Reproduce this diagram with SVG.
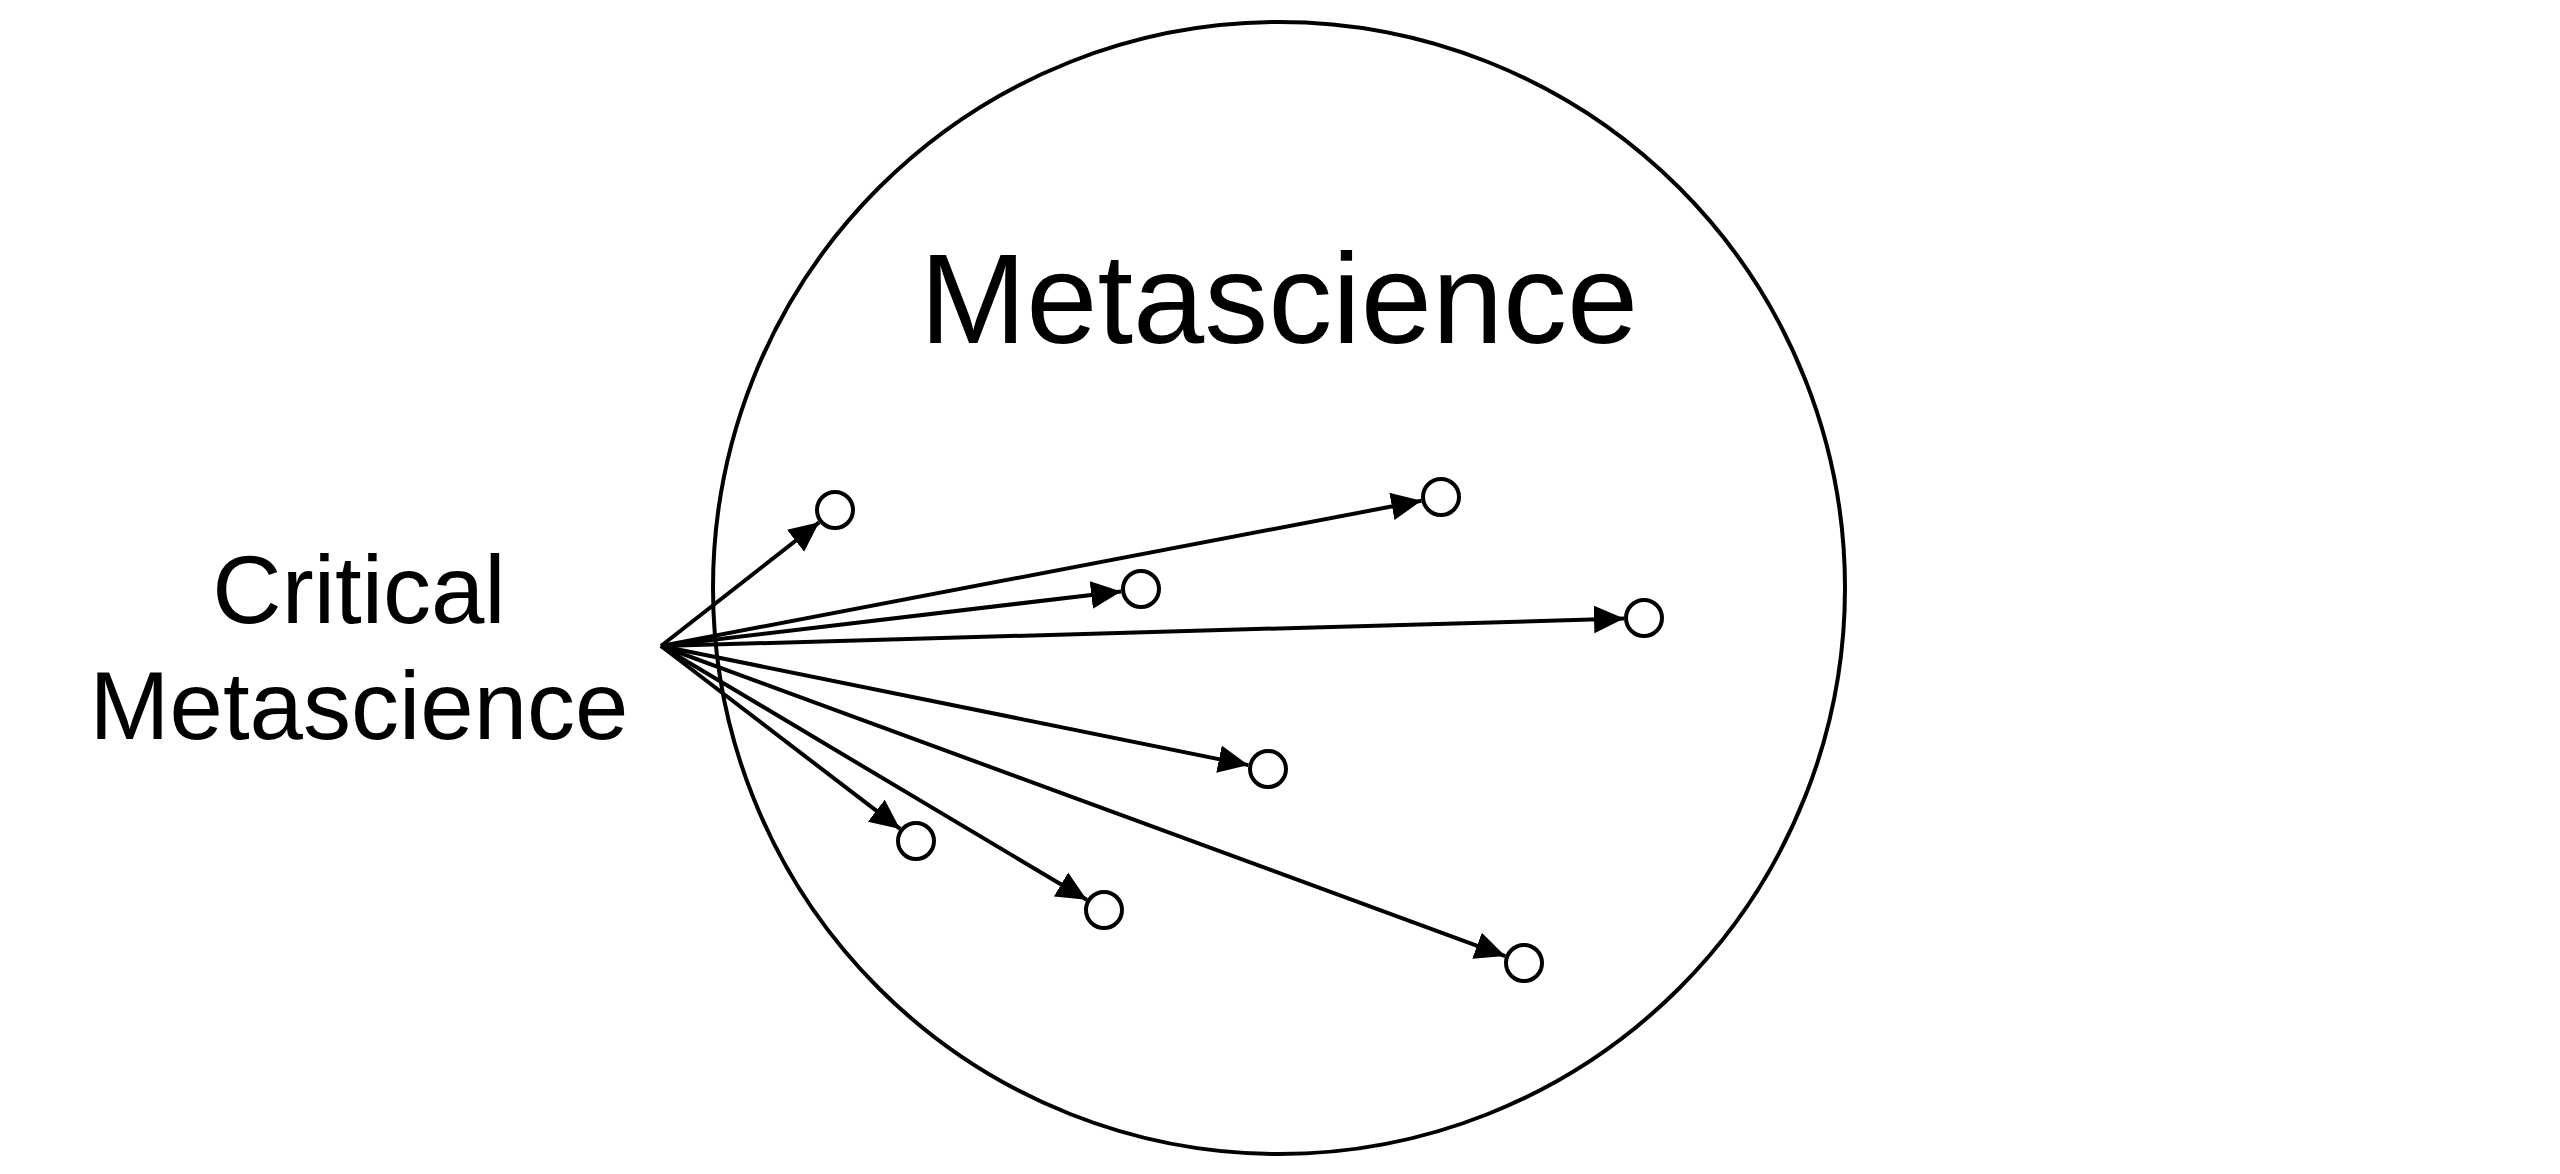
<svg xmlns="http://www.w3.org/2000/svg" width="2560" height="1174" viewBox="0 0 2560 1174">
  <style>
    .outline { fill: none; stroke: #000; stroke-width: 4; }
    .dot { fill: #fff; stroke: #000; stroke-width: 4; }
    .edge { fill: none; stroke: #000; stroke-width: 4; }
    .label { font-family: "Liberation Sans", Arial, sans-serif; fill: #000; }
  </style>
  <defs>
    <marker id="arrow" markerUnits="userSpaceOnUse" markerWidth="30" markerHeight="30" viewBox="0 0 27 25" refX="27" refY="12.5" orient="auto">
      <path d="M0,0 L27,12.5 L0,25 Z" fill="#000"/>
    </marker>
  </defs>
  <rect width="2560" height="1174" fill="#fff"/>

  <g id="metascience">
    <circle class="outline" cx="1279" cy="588" r="566"/>
    <text class="label" x="1279" y="343" font-size="128" text-anchor="middle">Metascience</text>
  </g>

  <g id="critical-metascience">
    <text class="label" x="359" y="623" font-size="96" text-anchor="middle">Critical</text>
    <text class="label" x="359" y="739" font-size="96" text-anchor="middle">Metascience</text>
  </g>

  <g id="connectors">
    <line class="edge" x1="661" y1="646" x2="819.2" y2="522.3" marker-end="url(#arrow)"/>
    <line class="edge" x1="661" y1="646" x2="1421.4" y2="500.8" marker-end="url(#arrow)"/>
    <line class="edge" x1="661" y1="646" x2="1121.1" y2="591.4" marker-end="url(#arrow)"/>
    <line class="edge" x1="661" y1="646" x2="1624.0" y2="618.6" marker-end="url(#arrow)"/>
    <line class="edge" x1="661" y1="646" x2="1248.4" y2="765.1" marker-end="url(#arrow)"/>
    <line class="edge" x1="661" y1="646" x2="900.1" y2="828.9" marker-end="url(#arrow)"/>
    <line class="edge" x1="661" y1="646" x2="1086.8" y2="899.8" marker-end="url(#arrow)"/>
    <line class="edge" x1="661" y1="646" x2="1505.2" y2="956.1" marker-end="url(#arrow)"/>
  </g>

  <g id="node-1"><circle class="dot" cx="835" cy="510" r="18"/></g>
  <g id="node-2"><circle class="dot" cx="1441" cy="497" r="18"/></g>
  <g id="node-3"><circle class="dot" cx="1141" cy="589" r="18"/></g>
  <g id="node-4"><circle class="dot" cx="1644" cy="618" r="18"/></g>
  <g id="node-5"><circle class="dot" cx="1268" cy="769" r="18"/></g>
  <g id="node-6"><circle class="dot" cx="916" cy="841" r="18"/></g>
  <g id="node-7"><circle class="dot" cx="1104" cy="910" r="18"/></g>
  <g id="node-8"><circle class="dot" cx="1524" cy="963" r="18"/></g>
</svg>
